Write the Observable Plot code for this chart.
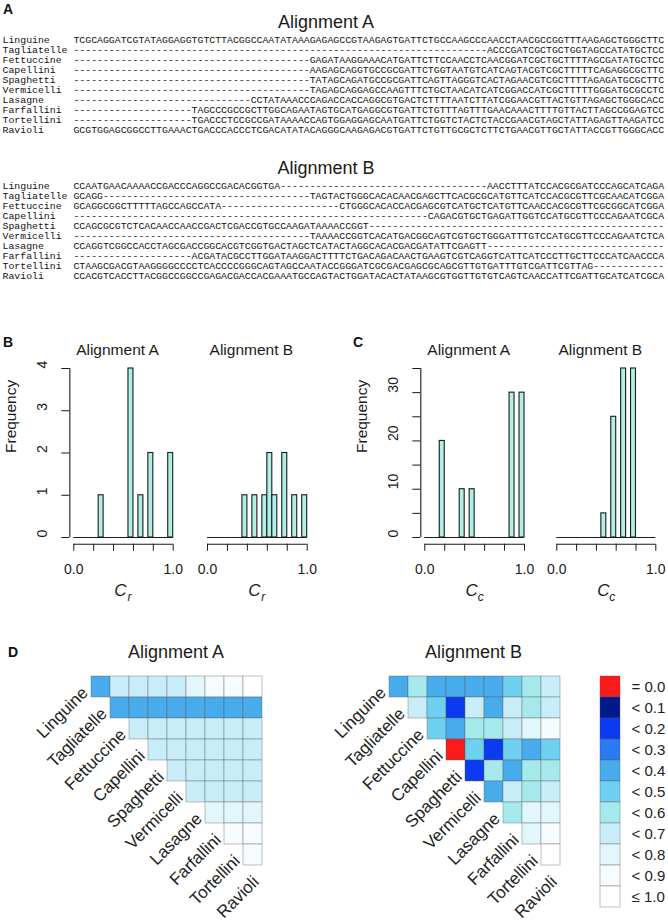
<!DOCTYPE html>
<html><head><meta charset="utf-8">
<script src="https://cdn.jsdelivr.net/npm/d3@7"></script>
<script src="https://cdn.jsdelivr.net/npm/@observablehq/plot@0.6"></script>
<style>
html,body{margin:0;padding:0;background:#fff;overflow:hidden}
#fig{position:relative;width:668px;height:923px;font-family:"Liberation Sans",Arial,Helvetica,sans-serif;color:#111}
#fig svg{position:absolute;left:0;top:0}
.lab{position:absolute;font-weight:bold;font-size:14px;line-height:14px;font-family:"Liberation Sans",Arial,sans-serif}
</style></head><body><div id="fig"></div>
<script>
// ---------------- data ----------------
const names = ["Linguine","Tagliatelle","Fettuccine","Capellini","Spaghetti","Vermicelli","Lasagne","Farfallini","Tortellini","Ravioli"];
const gap = n => "-".repeat(n);
const alignmentA = [
  "TCGCAGGATCGTATAGGAGGTGTCTTACGGCCAATATAAAGAGAGCCGTAAGAGTGATTCTGCCAAGCCCAACCTAACGCCGGTTTAAGAGCTGGGCTTC",
  gap(70) + "ACCCGATCGCTGCTGGTAGCCATATGCTCC",
  gap(40) + "GAGATAAGGAAACATGATTCTTCCAACCTCAACGGATCGCTGCTTTTAGCGATATGCTCC",
  gap(40) + "AAGAGCAGGTGCCGCGATTCTGGTAATGTCATCAGTACGTCGCTTTTTCAGAGGCGCTTC",
  gap(40) + "TATAGCAGATGCCGCGATTCAGTTAGGGTCACTAGAACGTCGCTTTTAGAGATGCGCTTC",
  gap(40) + "TAGAGCAGGAGCCAAGTTTCTGCTAACATCATCGGACCATCGCTTTTTGGGATGCGCCTC",
  gap(30) + "CCTATAAACCCAGACCACCAGGCGTGACTCTTTTAATCTTATCGGAACGTTACTGTTAGAGCTGGGCACC",
  gap(20) + "TAGCCCGCCGCTTGGCAGAATAGTGCATGAGGCGTGATTCTGTTTAGTTTGAACAAACTTTTGTTACTTAGCCGGAGTCC",
  gap(20) + "TGACCCTCCGCCGATAAAACCAGTGGAGGAGCAATGATTCTGGTCTACTCTACCGAACGTAGCTATTAGAGTTAAGATCC",
  "GCGTGGAGCGGCCTTGAAACTGACCCACCCTCGACATATACAGGGCAAGAGACGTGATTCTGTTGCGCTCTTCTGAACGTTGCTATTACCGTTGGGCACC"
];
const alignmentB = [
  "CCAATGAACAAAACCGACCCAGGCCGACACGGTGA" + gap(35) + "AACCTTTATCCACGCGATCCCAGCATCAGA",
  "GCAGG" + gap(35) + "TAGTACTGGGCACACAACGAGCTTCACGCGCATGTTCATCCACGCGTTCGCAACATCGGA",
  "GCAGGCGGCTTTTTAGCCAGCCATA" + gap(20) + "CTGGGCACACCACGAGCGTCATGCTCATGTTCAACCACGCGTTCGCGGCATCGGA",
  gap(60) + "CAGACGTGCTGAGATTGGTCCATGCGTTCCCAGAATCGCA",
  "CCAGCGCGTCTCACAACCAACCGACTCGACCGTGCCAAGATAAAACCGGT" + gap(50),
  gap(40) + "TAAAACCGGTCACATGACGGCAGTCGTGCTGGGATTTGTCCATGCGTTCCCAGAATCTCA",
  "CCAGGTCGGCCACCTAGCGACCGGCACGTCGGTGACTAGCTCATACTAGGCACACGACGATATTCGAGTT" + gap(30),
  gap(20) + "ACGATACGCCTTGGATAAGGACTTTTCTGACAGACAACTGAAGTCGTCAGGTCATTCATCCCTTGCTTCCCATCAACCCA",
  "CTAAGCGACGTAAGGGGCCCCTCACCCCGGGCAGTAGCCAATACCGGGATCGCGACGAGCGCAGCGTTGTGATTTGTCGATTCGTTAG" + gap(12),
  "CCACGTCACCTTACGGCCGGCCGAGACGACCACGAAATGCCAGTACTGGATACACTATAAGCGTGGTTGTGTCAGTCAACCATTCGATTGCATCATCGCA"
];

// histogram bins (shared edges) and counts
const binEdges = [0,0.05,0.1,0.15,0.2,0.25,0.3,0.35,0.4,0.45,0.5,0.55,0.6,0.65,0.7,0.75,0.8,0.85,0.9,0.95,1];
const crCountsA = [0,0,0,0,0,1,0,0,0,0,0,4,0,1,0,2,0,0,0,2];
const crCountsB = [0,0,0,0,0,0,0,1,0,1,0,1,2,1,0,2,0,1,0,1];
const ccCountsA = [0,0,0,20,0,0,0,10,0,10,0,0,0,0,0,0,0,30,0,30];
const ccCountsB = [0,0,0,0,0,0,0,0,0,5,0,25,0,35,0,35,0,0,0,0];
const xTicks = [0,0.2,0.4,0.6,0.8,1];
const xTickLabels = ["0.0","","","","","1.0"];
const crYlim = [0,4];
const crYTicks = [0,1,2,3,4];
const crYTickLabels = ["0","1","2","3","4"];
const ccYlim = [0,35];
const ccYTicks = [0,5,10,15,20,25,30,35];
const ccYTickLabels = ["0","","10","","20","","30",""];

// heatmap legend
const legendLabels = ["= 0.0","< 0.1","< 0.2","< 0.3","< 0.4","< 0.5","< 0.6","< 0.7","< 0.8","< 0.9","\u2264 1.0"];
const legendColors = ["#fb1b1b","#001a8e","#0b3bef","#2a7af1","#47abec","#6fd1f2","#a6e9ec","#c9edf8","#e3f6fc","#f5fbfe","#ffffff"];
// category index (into legendLabels) for each pair row i, column j>i
const heatA = [
  [4,7,7,7,7,8,9,9,10],
  [4,4,4,4,4,4,4,4],
  [7,7,7,7,7,7,7],
  [7,7,7,7,7,7],
  [7,7,7,7,7],
  [7,7,7,7],
  [8,8,8],
  [9,9],
  [9]
];
const heatB = [
  [4,6,4,4,4,4,5,6,7],
  [7,5,2,7,4,7,6,7],
  [5,4,6,6,7,8,9],
  [0,5,2,5,4,5],
  [2,6,4,6,6],
  [4,7,6,7],
  [6,8,8],
  [8,9],
  [10]
];

// ---------------- layout ----------------
const W = 668, H = 923;
const fig = document.getElementById("fig");
const sans = "Liberation Sans, Arial, Helvetica, sans-serif";
const mono = "Liberation Mono, Courier New, monospace";
const ink = "#1a1a1a";
const histFill = "#b0efe6";
const baseStyle = {background: "transparent", overflow: "visible", fontFamily: sans, fontSize: "14px", color: ink};

function add(svg) { fig.appendChild(svg); }
function label(txt, left, top) {
  const d = document.createElement("div");
  d.className = "lab"; d.textContent = txt;
  d.style.left = left + "px"; d.style.top = top + "px";
  fig.appendChild(d);
}

// ----- alignments -----
const monoSize = 9.85, charW = monoSize * 0.6;
function alignmentPlot(seqs, title, firstY, step, titleY) {
  const rows = names.map((name, i) => ({name, seq: seqs[i]}));
  const last = firstY + step * (names.length - 1);
  const h = Math.ceil(last + 10);
  return Plot.plot({
    width: W, height: h,
    marginLeft: 2, marginRight: 0, marginTop: firstY, marginBottom: h - last,
    x: {axis: null, domain: [0, 1]},
    y: {axis: null, type: "point", domain: names, padding: 0},
    style: baseStyle,
    marks: [
      Plot.text(rows, {y: "name", text: "name", frameAnchor: "left", textAnchor: "start", fontFamily: mono, fontSize: monoSize, fill: "#111"}),
      Plot.text(rows, {y: "name", text: "seq", frameAnchor: "left", textAnchor: "start", dx: 12 * charW, fontFamily: mono, fontSize: monoSize, fill: "#111"}),
      Plot.text([title], {text: d => d, frameAnchor: "top", dx: -9.5, dy: titleY - firstY, fontSize: 18, fill: ink})
    ]
  });
}
add(alignmentPlot(alignmentA, "Alignment A", 37, 10.5, 15));
add(alignmentPlot(alignmentB, "Alignment B", 183, 10.5, 161));

// ----- histograms (R base-graphics style) -----
function hist({counts, ylim, yTicks, yTickLabels, showY, px, title, sub}) {
  const xlim = [binEdges[0], binEdges[binEdges.length - 1]];
  const kx = (px.x1 - px.x0) / (xlim[1] - xlim[0]);
  const ky = (px.y0 - px.yTop) / (ylim[1] - ylim[0]);
  const padX = 0.04 * (xlim[1] - xlim[0]), padY = 0.04 * (ylim[1] - ylim[0]);
  const usrX = [xlim[0] - padX, xlim[1] + padX], usrY = [ylim[0] - padY, ylim[1] + padY];
  const L = px.x0 - padX * kx, R = px.x1 + padX * kx, B = px.y0 + padY * ky, T = px.yTop - padY * ky;
  const h = 640;
  const bins = counts.map((c, i) => ({x1: binEdges[i], x2: binEdges[i + 1], count: c})).filter(d => d.count > 0);
  const xt = xTicks.map((v, i) => ({v, label: xTickLabels[i]})).filter(d => d.label);
  const yt = yTicks.map((v, i) => ({v, label: yTickLabels[i]})).filter(d => d.label);
  const marks = [
    Plot.ruleY([ylim[0]], {x1: xlim[0], x2: xlim[1], stroke: ink, strokeWidth: 1.1}),
    Plot.rectY(bins, {x1: "x1", x2: "x2", y: "count", fill: histFill, stroke: ink, strokeWidth: 1.1}),
    Plot.ruleY([usrY[0]], {x1: xlim[0], x2: xlim[1], stroke: ink, strokeWidth: 1.1}),
    Plot.text(xt, {x: "v", text: "label", frameAnchor: "bottom", dy: 30, fontSize: 14, fill: ink}),
    Plot.text(["C"], {text: d => d, frameAnchor: "bottom", dx: -3, dy: 52, fontSize: 17, fontStyle: "italic", fill: ink}),
    Plot.text([sub], {text: d => d, frameAnchor: "bottom", dx: 6, dy: 57, fontSize: 12, fontStyle: "italic", fill: ink}),
    Plot.text([title], {text: d => d, frameAnchor: "top", dx: -6, dy: -18, fontSize: 15.5, fill: ink})
  ];
  if (showY) {
    marks.push(
      Plot.ruleX([usrX[0]], {y1: yTicks[0], y2: yTicks[yTicks.length - 1], stroke: ink, strokeWidth: 1.1}),
      Plot.text(yt, {y: "v", text: "label", frameAnchor: "left", rotate: -90, dx: -27, fontSize: 14, fill: ink}),
      Plot.text(["Frequency"], {text: d => d, frameAnchor: "left", rotate: -90, dx: -59, fontSize: 15.5, fill: ink})
    );
  }
  return Plot.plot({
    width: W, height: h,
    marginLeft: L, marginRight: W - R, marginTop: T, marginBottom: h - B,
    x: {domain: usrX, ticks: xTicks, tickSize: 7, tickFormat: () => "", label: null},
    y: showY ? {domain: usrY, ticks: yTicks, tickSize: 8, tickFormat: () => "", label: null}
             : {domain: usrY, axis: null},
    style: baseStyle,
    marks
  });
}
const hy0 = 537, hyTop = 368;
add(hist({counts: crCountsA, ylim: crYlim, yTicks: crYTicks, yTickLabels: crYTickLabels, showY: true,
  px: {x0: 73.3, x1: 172.7, y0: hy0, yTop: hyTop}, title: "Alignment A", sub: "r"}));
add(hist({counts: crCountsB, ylim: crYlim, yTicks: crYTicks, yTickLabels: crYTickLabels, showY: false,
  px: {x0: 207, x1: 306.7, y0: hy0, yTop: hyTop}, title: "Alignment B", sub: "r"}));
add(hist({counts: ccCountsA, ylim: ccYlim, yTicks: ccYTicks, yTickLabels: ccYTickLabels, showY: true,
  px: {x0: 424.3, x1: 524, y0: hy0, yTop: hyTop}, title: "Alignment A", sub: "c"}));
add(hist({counts: ccCountsB, ylim: ccYlim, yTicks: ccYTicks, yTickLabels: ccYTickLabels, showY: false,
  px: {x0: 556.3, x1: 655.3, y0: hy0, yTop: hyTop}, title: "Alignment B", sub: "c"}));

// ----- heatmaps -----
const cellW = 19.73, cellH = 21.8, hmTop = 672;
const colorScale = {type: "ordinal", domain: legendLabels, range: legendColors};
function heatmap(matrix, title, frameLeft) {
  const cells = [];
  matrix.forEach((row, i) => row.forEach((k, j) => cells.push({row: names[i], col: names[i + 1 + j], cat: legendLabels[k]})));
  const right = frameLeft + cellW * names.length, bottom = hmTop + cellH * names.length;
  return Plot.plot({
    width: W, height: H,
    marginLeft: frameLeft, marginRight: W - right, marginTop: hmTop, marginBottom: H - bottom,
    x: {domain: names, axis: null, padding: 0},
    y: {domain: names, axis: null, padding: 0},
    color: colorScale,
    style: baseStyle,
    marks: [
      Plot.cell(cells, {x: "col", y: "row", fill: "cat", stroke: "#555", strokeOpacity: 0.45, strokeWidth: 0.8}),
      Plot.text(names, {x: d => d, y: d => d, text: d => d, rotate: -45, textAnchor: "end", dx: 3, dy: 3, fontSize: 17, fill: "#222"}),
      Plot.text([title], {text: d => d, frameAnchor: "top", dx: 8.3, dy: -27, fontSize: 18, fill: ink})
    ]
  });
}
add(heatmap(heatA, "Alignment A", 68.6));
add(heatmap(heatB, "Alignment B", 366));

// legend
const legTop = hmTop, legBox = cellH;
add(Plot.plot({
  width: W, height: H,
  marginLeft: 600, marginRight: W - 620, marginTop: legTop, marginBottom: H - (legTop + legBox * legendLabels.length),
  x: {axis: null},
  y: {domain: legendLabels, axis: null, padding: 0},
  color: colorScale,
  style: baseStyle,
  marks: [
    Plot.cell(legendLabels, {y: d => d, fill: d => d, stroke: "#555", strokeOpacity: 0.45, strokeWidth: 0.8}),
    Plot.text(legendLabels, {y: d => d, text: d => d, frameAnchor: "right", textAnchor: "start", dx: 11, fontSize: 15, fill: "#222"})
  ]
}));

// panel letters
label("A", 3, 2);
label("B", 3, 335);
label("C", 353, 335);
label("D", 8, 645);
</script></body></html>
